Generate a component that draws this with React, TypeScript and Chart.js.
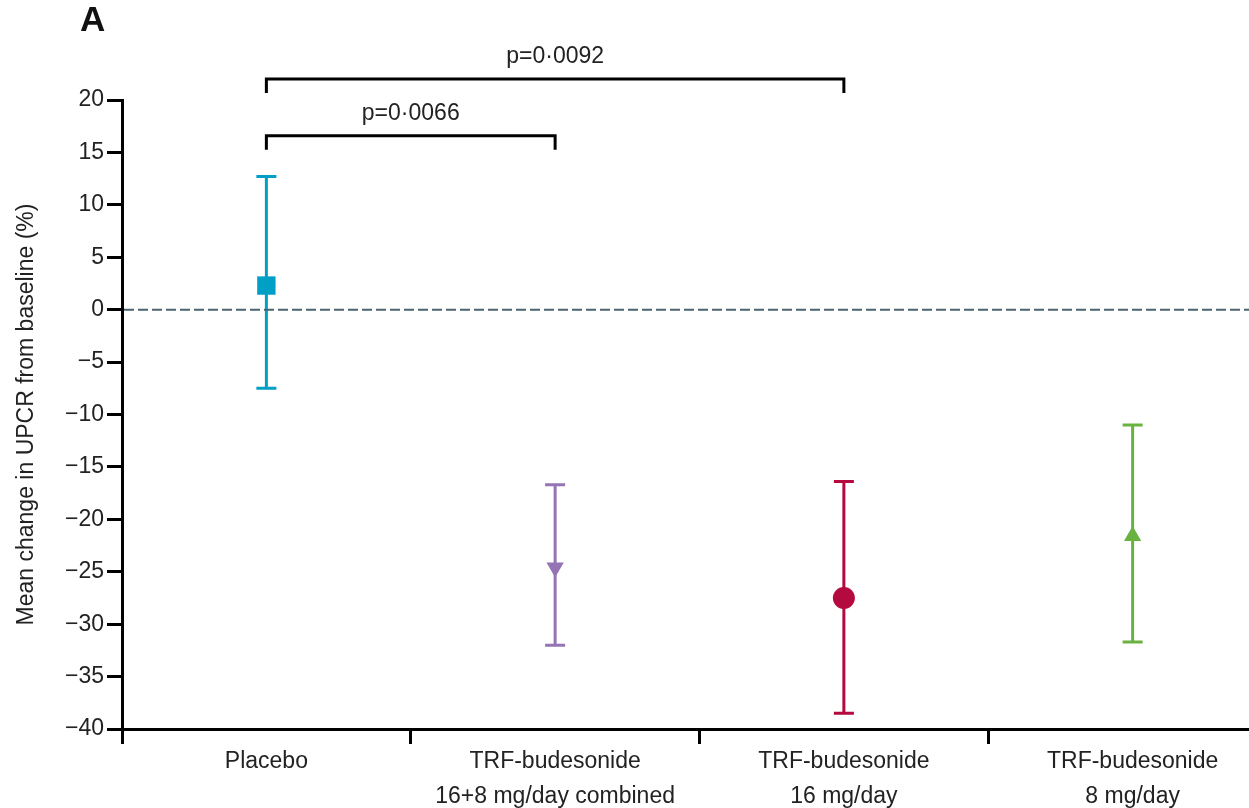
import React, { useEffect, useRef } from 'react';
import { Chart, registerables } from 'chart.js';

Chart.register(...registerables);

// ---- data ----
const categories: (string | string[])[] = [
  'Placebo',
  ['TRF-budesonide', '16+8 mg/day combined'],
  ['TRF-budesonide', '16 mg/day'],
  ['TRF-budesonide', '8 mg/day'],
];
const meanChange = [2.3, -24.6, -27.5, -21.6];
const ciLower = [-7.5, -32.0, -38.5, -31.7];
const ciUpper = [12.7, -16.7, -16.4, -11.0];
const seriesColors = ['#00A0C6', '#9474B4', '#B30B3F', '#6AB23F'];
const markerStyles = ['rect', 'triangle', 'circle', 'triangle'];
const markerRotation = [0, 180, 0, 0];
const markerRadius = [13, 10, 11, 10];

const yMin = -40;
const yMax = 20;
const yStep = 5;

// significance comparisons (category indices, bracket level in y units, label)
const compFrom = [0, 0];
const compTo = [1, 2];
const compLevel = [16.6, 22];
const compLabels = ['p=0·0066', 'p=0·0092'];

const panelLabel = 'A';
const yTitle = 'Mean change in UPCR from baseline (%)';

const FONT = '"Liberation Sans", Arial, sans-serif';
const TEXT = '#222';

const annotPlugin = {
  id: 'annot',
  beforeDatasetsDraw(chart: any) {
    const { ctx, chartArea } = chart;
    const x = chart.scales.x;
    const y = chart.scales.y;
    ctx.save();
    // error bars
    for (let i = 0; i < meanChange.length; i++) {
      const px = x.getPixelForValue(i);
      const top = y.getPixelForValue(ciUpper[i]);
      const bot = y.getPixelForValue(ciLower[i]);
      ctx.strokeStyle = seriesColors[i];
      ctx.lineWidth = 3;
      ctx.lineCap = 'butt';
      ctx.beginPath();
      ctx.moveTo(px, top);
      ctx.lineTo(px, bot);
      ctx.moveTo(px - 10, top);
      ctx.lineTo(px + 10, top);
      ctx.moveTo(px - 10, bot);
      ctx.lineTo(px + 10, bot);
      ctx.stroke();
    }
    // dashed zero line
    const y0 = y.getPixelForValue(0);
    ctx.strokeStyle = '#4A6470';
    ctx.lineWidth = 2;
    ctx.setLineDash([10, 4]);
    ctx.beginPath();
    ctx.moveTo(chartArea.left + 2, y0);
    ctx.lineTo(chartArea.right, y0);
    ctx.stroke();
    ctx.restore();
  },
  afterDraw(chart: any) {
    const { ctx } = chart;
    const x = chart.scales.x;
    const y = chart.scales.y;
    ctx.save();
    // brackets
    for (let k = 0; k < compFrom.length; k++) {
      const x1 = x.getPixelForValue(compFrom[k]);
      const x2 = x.getPixelForValue(compTo[k]);
      const by = y.getPixelForValue(compLevel[k]);
      ctx.strokeStyle = '#000';
      ctx.lineWidth = 3;
      ctx.lineJoin = 'miter';
      ctx.beginPath();
      ctx.moveTo(x1, by + 14);
      ctx.lineTo(x1, by);
      ctx.lineTo(x2, by);
      ctx.lineTo(x2, by + 14);
      ctx.stroke();
      ctx.fillStyle = TEXT;
      ctx.font = `23px ${FONT}`;
      ctx.textAlign = 'center';
      ctx.textBaseline = 'alphabetic';
      ctx.fillText(compLabels[k], (x1 + x2) / 2, by - 16);
    }
    // panel label
    ctx.fillStyle = '#111';
    ctx.font = `bold 35px ${FONT}`;
    ctx.textAlign = 'left';
    ctx.textBaseline = 'alphabetic';
    ctx.fillText(panelLabel, 80, 31);
    ctx.restore();
  },
};

export default function App() {
  const ref = useRef<HTMLCanvasElement | null>(null);

  useEffect(() => {
    if (!ref.current) return;
    const chart = new Chart(ref.current, {
      type: 'line',
      data: {
        labels: categories as any,
        datasets: [
          {
            data: meanChange,
            showLine: false,
            pointStyle: markerStyles as any,
            pointRotation: markerRotation,
            pointRadius: markerRadius,
            pointHoverRadius: markerRadius,
            pointBackgroundColor: seriesColors,
            pointBorderColor: seriesColors,
            pointBorderWidth: 0,
          },
        ],
      },
      options: {
        responsive: false,
        animation: false,
        events: [],
        layout: { padding: { top: 100, right: 8, left: 0, bottom: 0 } },
        plugins: { legend: { display: false }, tooltip: { enabled: false } },
        scales: {
          x: {
            type: 'category',
            offset: true,
            grid: {
              offset: true,
              drawOnChartArea: false,
              tickLength: 15,
              tickWidth: 3,
              color: '#000',
            },
            border: { display: true, width: 3, color: '#000' },
            ticks: {
              font: { family: FONT, size: 23, lineHeight: 1.52 },
              color: TEXT,
              padding: 0,
              maxRotation: 0,
              autoSkip: false,
            },
            afterFit(scale: any) {
              scale.height = 79;
            },
          },
          y: {
            min: yMin,
            max: yMax,
            grid: {
              drawOnChartArea: false,
              tickLength: 15,
              tickWidth: 3,
              color: '#000',
            },
            border: { display: true, width: 3, color: '#000' },
            ticks: {
              stepSize: yStep,
              font: { family: FONT, size: 23 },
              color: TEXT,
              padding: 3,
              callback: (v: any) => (Number(v) < 0 ? '\u2212' + Math.abs(Number(v)) : String(v)),
            },
            title: {
              display: true,
              text: yTitle,
              font: { family: FONT, size: 23 },
              color: TEXT,
              padding: { top: 13, bottom: 0 },
            },
            afterFit(scale: any) {
              scale.width = 122;
            },
          },
        },
      },
      plugins: [annotPlugin],
    });
    return () => chart.destroy();
  }, []);

  return (
    <div
      style={{
        position: 'absolute',
        left: 0,
        top: 0,
        width: 1249,
        height: 808,
        overflow: 'hidden',
        background: '#fff',
      }}
    >
      <canvas ref={ref} width={1290} height={808} style={{ width: 1290, height: 808, display: 'block' }} />
    </div>
  );
}
